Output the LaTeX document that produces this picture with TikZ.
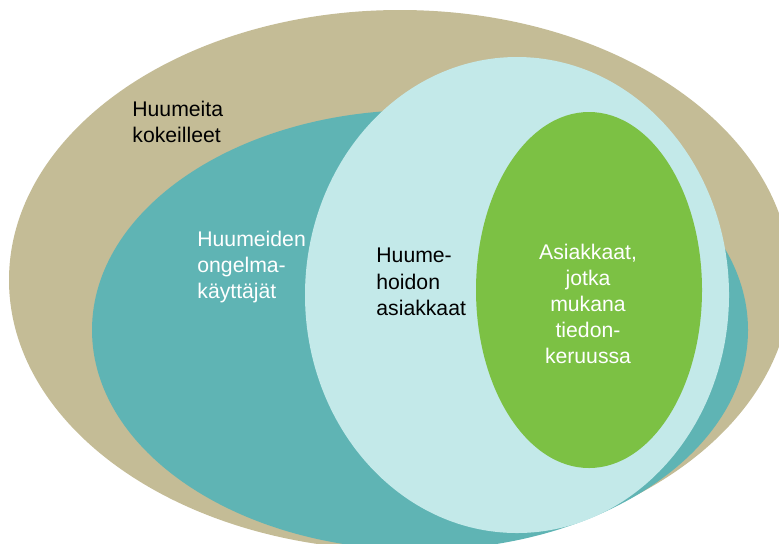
\documentclass[tikz,border=0pt]{standalone}
\usepackage{fontspec}
\setmainfont{Liberation Sans}
\definecolor{triedcol}{RGB}{196,188,150}
\definecolor{problemcol}{RGB}{95,180,180}
\definecolor{treatedcol}{RGB}{195,233,233}
\definecolor{samplecol}{RGB}{124,193,68}

\begin{document}
\begin{tikzpicture}[x=0.5pt,y=-0.5pt,
  venntext/.style={font=\fontsize{10.6}{13}\selectfont,inner sep=0pt}]
\clip (0,0) rectangle (779,543);
\fill[triedcol] (400,280) ellipse [x radius=391,y radius=270];
\fill[problemcol] (420,330) ellipse [x radius=328,y radius=220];
\fill[treatedcol] (517,295) ellipse [x radius=212,y radius=238];
\fill[samplecol] (589,290) ellipse [x radius=113,y radius=178];
\node[venntext,align=left,anchor=north west] (tried) at (132,101) {Huumeita\\kokeilleet};
\node[venntext,align=left,anchor=north west,white] (problem) at (197,231) {Huumeiden\\ongelma-\\käyttäjät};
\node[venntext,align=left,anchor=north west] (treated) at (376,248) {Huume-\\hoidon\\asiakkaat};
\node[venntext,align=center,anchor=north,white] (sample) at (588,244) {Asiakkaat,\\jotka\\mukana\\tiedon-\\keruussa};
\end{tikzpicture}
\end{document}
